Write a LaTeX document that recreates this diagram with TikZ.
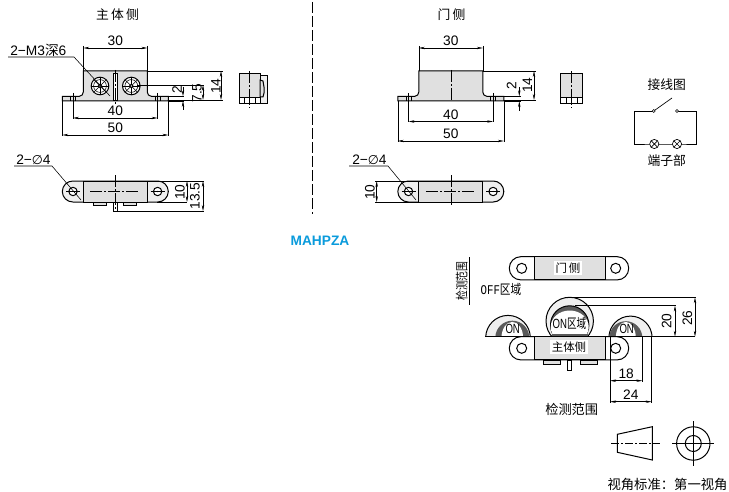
\documentclass[tikz,border=0pt]{standalone}
\usepackage{fontspec}
\setmainfont{Liberation Sans}
\newfontfamily\cjk{Noto Sans CJK SC}
\newfontfamily\djv{DejaVu Sans}
\newfontfamily\lmono{Liberation Mono}
\usetikzlibrary{arrows.meta,calc}
\definecolor{bodygray}{HTML}{E0E0E0}
\definecolor{endgray}{HTML}{EFEFEF}
\definecolor{hatchgray}{HTML}{5A5A5A}
\definecolor{blueA}{HTML}{0A9BDC}
\newcounter{lbl}
\tikzset{
  part/.style={draw=black,line width=.75pt},
  thin line/.style={draw=black,line width=.42pt},
  dimline/.style={draw=black,line width=.42pt,{Stealth[length=4.5pt,width=1.8pt]}-{Stealth[length=4.5pt,width=1.8pt]}},
  arrowin/.style={draw=black,line width=.42pt,-{Stealth[length=4.5pt,width=1.8pt]}},
  center line/.style={draw=black,line width=.42pt,dash pattern=on 9pt off 1.5pt on 1.5pt off 1.5pt},
  num/.style={font=\fontsize{10.3}{12}\selectfont,inner sep=0pt},
  zh/.style={font=\cjk\fontsize{9.6}{11}\selectfont,inner sep=0pt},
  zhs/.style={font=\cjk\fontsize{8.6}{10}\selectfont,inner sep=0pt},
  narrow/.style={font=\fontsize{10}{12}\selectfont,inner sep=0pt,xscale=.72},
}
% horizontal dimension: x1 x2 y label
\newcommand\dimH[4]{\stepcounter{lbl}\draw[dimline] (#1,#3) -- (#2,#3);
  \node[num] (dim\thelbl) at ({(#1+#2)/2},#3-7) {#4};}
% vertical dimension: x y1 y2 labelx labely label
\newcommand\dimV[6]{\stepcounter{lbl}\draw[dimline] (#1,#2) -- (#1,#3);
  \node[num,rotate=90] (dim\thelbl) at (#4,#5) {#6};}
\newcommand\frontview[1]{%
 \begin{scope}[shift={(#1,0)}]
  \path[part,fill=bodygray] (-53,96.3) -- (-36,96.3) to[out=0,in=-90] (-32,92) -- (-32,71) -- (32,71) -- (32,92) to[out=-90,in=180] (36,96.3) -- (53,96.3) -- (53,101) -- (-53,101) -- cycle;
  \foreach \s in {-1,1}{
    \draw[thin line] ({\s*42.3-2.6},96.3) -- ({\s*42.3-2.6},101) ({\s*42.3+2.6},96.3) -- ({\s*42.3+2.6},101);
    \draw[thin line] ({\s*42.3},93) -- ({\s*42.3},104);
  }
 \end{scope}}
\newcommand\topview[1]{%
 \begin{scope}[shift={(#1,0)}]
  \path[part,fill=endgray,rounded corners=7.9pt] (-53,181) rectangle (53,202);
  \path[part,fill=bodygray] (-32,181) rectangle (32,202);
  \foreach \s in {-1,1}{
    \path[part,fill=white] ({\s*42.3},191.5) circle[radius=4.2];
    \fill ({\s*42.3},191.5) circle[radius=.7];
    \draw[thin line] ({\s*42.3-7},191.5) -- ({\s*42.3+7},191.5);
  }
  \draw[center line] (-25,191.5) -- (25,191.5);
 \end{scope}}
\newcommand\fitting[1]{% x, y of circle with cross-hatch
  \path[part,fill=white] #1 circle[radius=8.8];
  \draw[thin line] #1 circle[radius=6.4];
  \foreach \a in {0,45,...,135}{\draw[thin line] #1 ++(\a:8.6) -- ++(\a:-17.2);}
  \draw[part,fill=white] #1 circle[radius=1.7];}
\newcommand\capsule[1]{% center y
  \path[part,fill=white,rounded corners=8.6pt] (509.3,#1-11.6) rectangle (628.7,#1+11.6);
  \path[part,fill=bodygray] (534,#1-11.6) rectangle (605.3,#1+11.6);
  \path[part,fill=white] (521.7,#1) circle[radius=5];
  \path[part,fill=white] (615.7,#1) circle[radius=5];}
\begin{document}
\begin{tikzpicture}[x=.75pt,y=-.75pt]
\useasboundingbox (0,0) rectangle (729,492);
\fill[white] (0,0) rectangle (729,492);

% ---- main side
\node[zh] (tMain) at (117.5,15) {主\,体\,侧};
\frontview{115.3}
\fitting{(100,86)}
\fitting{(131.3,86)}
\path[part,fill=white] (113,74) -- (117.4,74) -- (117.4,101) -- (113,101) -- cycle;
\draw[center line] (115,70) -- (115,105);
\draw[thin line] (83.3,46) -- (83.3,71) (147.3,46) -- (147.3,71);
\dimH{83.3}{147.3}{48}{30}
\draw[thin line] (73,101) -- (73,119) (157.6,101) -- (157.6,119);
\dimH{73}{157.6}{118}{40}
\draw[thin line] (62.3,101) -- (62.3,136) (168.3,101) -- (168.3,136);
\dimH{62.3}{168.3}{135}{50}
\draw[thin line] (147.3,71) -- (223,71) (168.3,100) -- (223,100) (137,85) -- (204,85) (168.3,96.3) -- (184,96.3) (168.3,101) -- (184,101);
\dimV{221}{71}{100}{216}{86}{14}
\dimV{203}{85}{100}{197}{93}{7.5}
\draw[arrowin] (183,87) -- (183,96.3);
\draw[arrowin] (183,110) -- (183,101);
\stepcounter{lbl}\node[num,rotate=90] (dim\thelbl) at (177,90) {2};
\node[num,anchor=west] (tM3) at (10,50) {2−M3{\cjk 深}6};
\draw[thin line] (8,57) -- (74,57) -- (110,96);

% side view main
\path[part,fill=bodygray] (239,74) rectangle (260,98);
\path[part,fill=white] (239,98) rectangle (260,104);
\foreach \x in {244,249.6,255}{\draw[thin line] (\x,98) -- (\x,104);}
\path[part,fill=endgray] (260,76) -- (267.5,76) -- (267.5,104) -- (260,104) -- cycle;
\path[part,fill=bodygray] (260,80) -- (263,81) -- (264,87) -- (264,93) -- (263,97) -- (260,97) -- cycle;
\draw[center line] (249.6,71) -- (249.6,108);

% top view main
\topview{115.3}
\path[part,fill=bodygray] (93,202) rectangle (106,205.5);
\path[part,fill=bodygray] (123,202) rectangle (136,205.5);
\path[part,fill=white] (113,202) rectangle (117.4,211);
\draw[center line] (115,175) -- (115,211);
\node[num,anchor=west] (tD1) at (16,160) {2−{\djv\fontsize{9.5}{11}\selectfont ∅}4};
\draw[thin line] (14,166) -- (52,166) -- (81,200);
\draw[thin line] (147,181) -- (204,181) (157,202) -- (187,202) (117,211) -- (204,211);
\dimV{187}{181}{202}{180}{192}{10}
\dimV{203}{181}{211}{195}{196}{13.5}

% divider
\draw[thin line,dash pattern=on 8pt off 2.5pt] (312,2) -- (312,214);

% ---- door side
\node[zh] (tDoor) at (451.5,15) {门\,侧};
\frontview{450.8}
\draw[center line] (450.8,70) -- (450.8,101);
\draw[thin line] (418.8,46) -- (418.8,71) (482.8,46) -- (482.8,71);
\dimH{418.8}{482.8}{48}{30}
\draw[thin line] (408.5,101) -- (408.5,122.5) (493.1,101) -- (493.1,122.5);
\dimH{408.5}{493.1}{121.5}{40}
\draw[thin line] (397.8,101) -- (397.8,142) (503.8,101) -- (503.8,142);
\dimH{397.8}{503.8}{141}{50}
\draw[thin line] (482.8,71) -- (536,71) (503.8,100) -- (536,100) (503.8,96.3) -- (521,96.3) (503.8,101) -- (521,101);
\dimV{534}{71}{100}{527.5}{85}{14}
\draw[arrowin] (519.3,87) -- (519.3,96.3);
\draw[arrowin] (519.3,111) -- (519.3,101);
\stepcounter{lbl}\node[num,rotate=90] (dim\thelbl) at (511.7,86) {2};

% side view door
\path[part,fill=bodygray] (560.3,74) rectangle (582.3,98);
\path[part,fill=white] (560.3,98) rectangle (582.3,104);
\foreach \x in {566,571.3,577}{\draw[thin line] (\x,98) -- (\x,104);}
\draw[center line] (571.3,71) -- (571.3,108);

% top view door
\topview{450.8}
\draw[center line] (450.8,175) -- (450.8,207);
\node[num,anchor=west] (tD2) at (352,160) {2−{\djv\fontsize{9.5}{11}\selectfont ∅}4};
\draw[thin line] (349,166) -- (388,166) -- (416,200);
\draw[thin line] (375,181) -- (418,181) (375,202) -- (418,202);
\dimV{376.7}{181}{202}{370}{192}{10}

% circuit
\node[zh] (tWire) at (666.7,85) {接线图};
\node[zh] (tTerm) at (666.7,161) {端子部};
\coordinate (swL) at (653.7,111);
\coordinate (swR) at (677,111);
\coordinate (swT) at (672,98);
\coordinate (lpL) at (654.3,144);
\coordinate (lpR) at (677,144);
\draw[thin line,line width=.5pt] (swL) -- (634.7,111) -- (634.7,144) -- (lpL) -- (lpR) -- (696,144) -- (696,111) -- (swR);
\draw[thin line,line width=.5pt] (swL) -- (swT);
\filldraw[thin line,fill=white] (swL) circle[radius=1.5] (swR) circle[radius=1.5];
\foreach \c in {lpL,lpR}{
  \path[thin line,line width=.5pt,fill=white] (\c) circle[radius=4.6];
  \draw[thin line,line width=.5pt] ($(\c)+(-3.2,-3.2)$) -- ($(\c)+(3.2,3.2)$) ($(\c)+(-3.2,3.2)$) -- ($(\c)+(3.2,-3.2)$);
}

% MAHPZA
\node[font=\bfseries\fontsize{10.3}{12}\selectfont,text=blueA,inner sep=0pt] (tName) at (320,241) {MAHPZA};

% ---- detection range
\capsule{268.3}
\node[zhs,fill=white,inner sep=1pt] (tDoor2) at (568,268) {门\,侧};
\node[font=\cjk\fontsize{9.6}{11}\selectfont,inner sep=0pt,rotate=90,xscale=.77] (tRange1) at (461.7,281) {检测范围};
\draw[thin line,line width=.5pt] (469.3,257) -- (469.3,305);
\node[inner sep=0pt,font=\fontsize{10}{12}\selectfont,xscale=.8] (tOff) at (501,289) {\lmono OFF{\cjk 区域}};

\begin{scope}
 \clip (480,280) rectangle (700,336.7);
 % left dome
 \path[part,fill=endgray] (508,337.7) circle[radius=22.3];
 \path[fill=hatchgray] (512.3,337.7) circle[radius=17];
 \path[fill=white] (512.3,337.7) ellipse[x radius=10.8,y radius=15.8];
 % right dome
 \path[part,fill=endgray] (630.5,337.7) circle[radius=21.6];
 \path[fill=hatchgray] (625.8,337.7) circle[radius=16.5];
 \path[fill=white] (625.8,337.7) ellipse[x radius=10,y radius=15.8];
 % centre dome
 \path[part,fill=endgray] (569.7,321) circle[radius=23.7];
 \path[part,fill=hatchgray] (569.7,325) circle[radius=19.2];
 \path[fill=white] (569.7,327) ellipse[x radius=19,y radius=16.5];
 \path[fill=hatchgray] (552,334) rectangle (588,336.7);
\end{scope}
\node[narrow] (tOnL) at (512.7,329) {ON};
\node[narrow] (tOnR) at (626.7,329) {ON};
\node[narrow] (tOnC) at (569.5,323.5) {ON{\cjk 区域}};

\capsule{348.3}
\node[zhs,fill=white,inner sep=1pt] (tMain2) at (569,347) {主体侧};
\path[part,fill=bodygray] (543,360) rectangle (560,364);
\path[part,fill=bodygray] (580,360) rectangle (597,364);
\path[part,fill=white] (567,360) rectangle (571,370);
\draw[part] (485,336.7) -- (695,336.7);

% dims
\draw[thin line] (610,336.7) -- (610,403) (642.3,336.7) -- (642.3,381.7) (651.7,336.7) -- (651.7,403);
\dimH{610}{642.3}{380.7}{18}
\dimH{610}{651.7}{401.7}{24}
\draw[thin line] (570,297.3) -- (696,297.3) (575,305.7) -- (676,305.7);
\dimV{675}{305.7}{336.7}{666.7}{321}{20}
\dimV{695}{297.3}{336.7}{687.3}{318}{26}
\node[font=\cjk\fontsize{9.9}{11}\selectfont,inner sep=0pt] (tRange2) at (571.7,409.3) {检测范围};

% projection symbol
\draw[part] (617.3,434.3) -- (652.3,426.7) -- (652.3,460) -- (617.3,452.3) -- cycle;
\draw[center line,dash pattern=on 6pt off 1.5pt on 1.5pt off 1.5pt] (611,443.5) -- (660,443.5);
\draw[part] (693.3,443.5) circle[radius=16.7];
\draw[part] (693.3,443.5) circle[radius=8];
\draw[thin line] (672,443.5) -- (714,443.5) (693.3,421) -- (693.3,466);
\node[font=\cjk\fontsize{10}{12}\selectfont,inner sep=0pt] (tAngle) at (667.5,484.5) {视角标准：第一视角};
\end{tikzpicture}
\end{document}
